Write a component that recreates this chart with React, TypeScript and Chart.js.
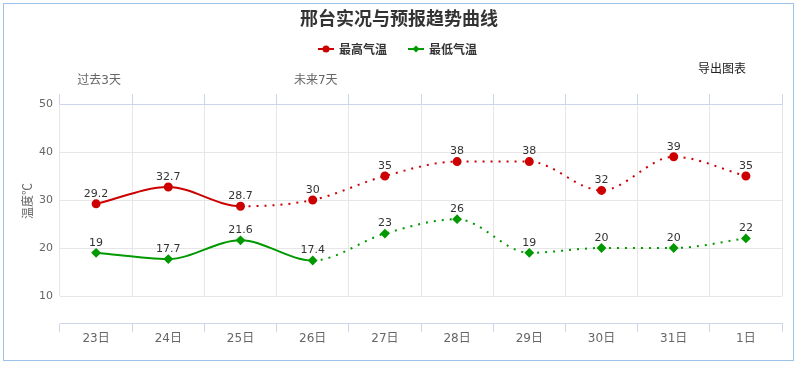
import React, { useEffect, useRef } from 'react';
import { Chart, registerables } from 'chart.js';

Chart.register(...registerables);

const categories = ['23日', '24日', '25日', '26日', '27日', '28日', '29日', '30日', '31日', '1日'];
const highTemps = [29.2, 32.7, 28.7, 30, 35, 38, 38, 32, 39, 35];
const lowTemps = [19, 17.7, 21.6, 17.4, 23, 26, 19, 20, 20, 22];
const periodLabels = ['过去3天', '', '', '未来7天', '', '', '', '', '', ''];
const highSeriesName = '最高气温';
const lowSeriesName = '最低气温';
const highObservedLast = 2;
const lowObservedLast = 3;
const yMin = 10;
const yMax = 50;
const yStep = 10;
const chartTitle = '邢台实况与预报趋势曲线';
const yTitle = '温度℃';
const exportText = '导出图表';

const RED = '#cc0000';
const GREEN = '#009900';
const FONT = '"DejaVu Sans", "Noto Sans CJK SC", sans-serif';
const CJK = '"Noto Sans CJK SC", "DejaVu Sans", sans-serif';

const decorPlugin = {
  id: 'decor',
  afterDatasetsDraw(chart: any) {
    const ctx = chart.ctx;
    ctx.save();
    // data labels
    ctx.font = `11px ${FONT}`;
    ctx.fillStyle = '#333333';
    ctx.textAlign = 'center';
    ctx.textBaseline = 'middle';
    chart.data.datasets.forEach((ds: any, di: number) => {
      const meta = chart.getDatasetMeta(di);
      meta.data.forEach((pt: any, i: number) => {
        ctx.fillText(String(ds.data[i]), pt.x, pt.y - 10);
      });
    });
    ctx.restore();
  },
  afterDraw(chart: any) {
    const ctx = chart.ctx;
    ctx.save();
    // title
    ctx.font = `bold 18px ${CJK}`;
    ctx.fillStyle = '#333333';
    ctx.textAlign = 'center';
    ctx.textBaseline = 'middle';
    ctx.fillText(chartTitle, 399, 18);
    // legend
    const items = [
      { name: highSeriesName, color: RED, x: 318, style: 'circle' },
      { name: lowSeriesName, color: GREEN, x: 408, style: 'diamond' },
    ];
    items.forEach((it) => {
      const y = 49;
      ctx.strokeStyle = it.color;
      ctx.lineWidth = 2;
      ctx.beginPath();
      ctx.moveTo(it.x, y);
      ctx.lineTo(it.x + 16, y);
      ctx.stroke();
      ctx.fillStyle = it.color;
      ctx.beginPath();
      const cx = it.x + 8;
      if (it.style === 'circle') {
        ctx.arc(cx, y, 3.5, 0, Math.PI * 2);
      } else {
        ctx.moveTo(cx, y - 3.5);
        ctx.lineTo(cx + 3.5, y);
        ctx.lineTo(cx, y + 3.5);
        ctx.lineTo(cx - 3.5, y);
        ctx.closePath();
      }
      ctx.fill();
      ctx.font = `bold 12px ${CJK}`;
      ctx.fillStyle = '#333333';
      ctx.textAlign = 'left';
      ctx.fillText(it.name, it.x + 21, y);
    });
    // export text
    ctx.font = `12px ${CJK}`;
    ctx.fillStyle = '#222222';
    ctx.textAlign = 'left';
    ctx.fillText(exportText, 698, 68);
    // y title
    ctx.translate(27, 201);
    ctx.rotate(-Math.PI / 2);
    ctx.font = `12px ${CJK}`;
    ctx.fillStyle = '#666666';
    ctx.textAlign = 'center';
    ctx.fillText(yTitle, 0, 0);
    ctx.restore();
  },
};

export default function App() {
  const ref = useRef<HTMLCanvasElement | null>(null);

  useEffect(() => {
    if (!ref.current) return;
    const dotted = [2, 6];
    const chart = new Chart(ref.current, {
      type: 'line',
      data: {
        labels: categories,
        datasets: [
          {
            label: highSeriesName,
            data: highTemps,
            borderColor: RED,
            backgroundColor: RED,
            borderWidth: 2,
            pointRadius: 3.5,
            pointStyle: 'circle',
            cubicInterpolationMode: 'monotone',
            fill: false,
            segment: {
              borderDash: (c: any) => (c.p0DataIndex >= highObservedLast ? dotted : []),
            },
          },
          {
            label: lowSeriesName,
            data: lowTemps,
            borderColor: GREEN,
            backgroundColor: GREEN,
            borderWidth: 2,
            pointRadius: 3.5,
            pointStyle: 'rectRot',
            cubicInterpolationMode: 'monotone',
            fill: false,
            segment: {
              borderDash: (c: any) => (c.p0DataIndex >= lowObservedLast ? dotted : []),
            },
          },
        ],
      },
      options: {
        responsive: false,
        animation: false,
        layout: { padding: { top: 70, left: 0, right: 18, bottom: 0 } },
        plugins: {
          legend: { display: false },
          title: { display: false },
          tooltip: { enabled: false },
        },
        scales: {
          x: {
            type: 'category',
            position: 'bottom',
            offset: true,
            weight: 0,
            grid: { offset: true, color: '#e6e6e6', drawTicks: false },
            border: { display: false },
            ticks: { display: false },
            afterFit: (s: any) => { s.height = 27; },
          },
          x2: {
            type: 'category',
            position: 'bottom',
            offset: true,
            weight: 1,
            grid: { offset: true, drawOnChartArea: false, tickLength: 9, color: '#ccd6eb' },
            border: { display: true, color: '#ccd6eb' },
            ticks: { padding: 0, autoSkip: false, maxRotation: 0, color: '#666666', font: { size: 12, family: FONT } },
            afterFit: (s: any) => { s.height = 42; },
          },
          xTop: {
            type: 'category',
            position: 'top',
            offset: true,
            grid: { offset: true, drawOnChartArea: false, tickLength: 10, color: '#ccd6eb' },
            border: { display: true, color: '#ccd6eb' },
            ticks: {
              padding: 6,
              labelOffset: 3,
              autoSkip: false,
              maxRotation: 0,
              color: '#666666',
              font: { size: 12, family: FONT },
              callback: (_v: any, i: number) => periodLabels[i],
            },
            afterFit: (s: any) => { s.height = 34; },
          },
          y: {
            position: 'left',
            min: yMin,
            max: yMax,
            ticks: { stepSize: yStep, padding: 7, color: '#666666', font: { size: 11, family: FONT } },
            grid: { color: '#e6e6e6', drawTicks: false },
            border: { display: false },
            afterFit: (s: any) => { s.width = 60; },
          },
        },
      },
      plugins: [decorPlugin],
    } as any);
    return () => chart.destroy();
  }, []);

  return (
    <div style={{ position: 'absolute', left: 0, top: 0, width: 800, height: 365, background: '#ffffff' }}>
      <canvas ref={ref} width={800} height={365} style={{ position: 'absolute', left: 0, top: 0 }} />
      <div
        style={{
          position: 'absolute',
          left: 3,
          top: 3,
          width: 791,
          height: 358,
          boxSizing: 'border-box',
          border: '1px solid #9cc4ea',
          pointerEvents: 'none',
        }}
      />
    </div>
  );
}
